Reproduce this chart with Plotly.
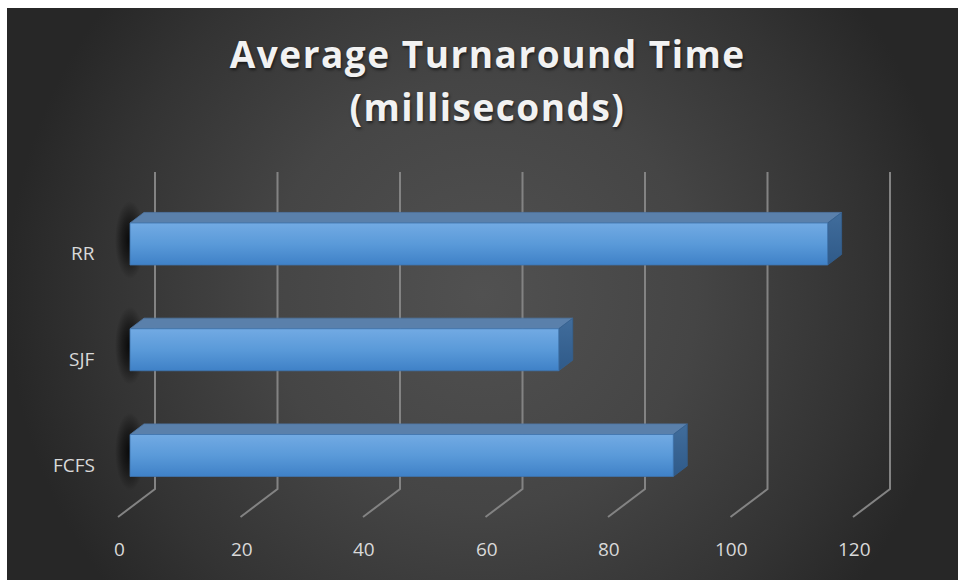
import plotly.graph_objects as go

# ---- data -------------------------------------------------------------
categories = ["FCFS", "SJF", "RR"]
turnaround_ms = [88.7, 70.0, 113.9]
tick_values = [0, 20, 40, 60, 80, 100, 120]
tick_labels = ["0", "20", "40", "60", "80", "100", "120"]
title_lines = ["Average Turnaround Time", "(milliseconds)"]

# ---- canvas / projection geometry --------------------------------------
W, H = 958, 580
LEFT, TOP = 7, 8            # thin white frame round the dark chart area
PX_PER_MS = 6.125           # horizontal scale of the value axis
ZERO_PX = 130               # value 0 on the front plane of the bars
ROW0_PX = 455.5             # centre of the first category row
ROW_STEP_PX = 105.75        # distance between category rows
TITLE_SIZE = 37


def xu(px):
    return px / PX_PER_MS


def yu(px):
    return px / ROW_STEP_PX


def y_at(py):
    return (ROW0_PX - py) / ROW_STEP_PX


x_range = [(LEFT - ZERO_PX) / PX_PER_MS, (W - ZERO_PX) / PX_PER_MS]
y_range = [y_at(H), y_at(TOP)]

# oblique depth: floor front edge (depth 0) -> back wall (depth 1)
DEPTH_DX, DEPTH_DY = xu(37), yu(28)
BAR_D0, BAR_D1 = 12 / 37, 26 / 37
BAR_HALF = yu(21)
FLOOR_FRONT_Y = y_at(517)
WALL_TOP_Y = y_at(172)


def shift(d):
    return ((d - BAR_D0) * DEPTH_DX, (d - BAR_D0) * DEPTH_DY)


fig = go.Figure()

# ---- radial background ------------------------------------------------
cx = (x_range[0] + x_range[1]) / 2
cy = y_at((TOP + H) / 2)
rx = (x_range[1] - x_range[0]) / 2
ry = yu(475)
fig.add_trace(go.Scatter(
    x=[cx - rx, cx + rx, cx + rx, cx - rx, cx - rx],
    y=[cy - ry, cy - ry, cy + ry, cy + ry, cy - ry],
    mode="lines", line=dict(width=0), fill="toself",
    fillgradient=dict(type="radial", colorscale=[
        [0, "#515151"], [0.45, "#454545"], [0.8, "#333333"], [1, "#272727"]]),
    hoverinfo="skip", showlegend=False))

# ---- gridlines: back wall + floor -------------------------------------
gx, gy = [], []
bx_off = shift(1)[0]
fx_off = shift(0)[0]
for v in tick_values:
    gx += [v + bx_off, v + bx_off, v + fx_off, None]
    gy += [WALL_TOP_Y, FLOOR_FRONT_Y + DEPTH_DY, FLOOR_FRONT_Y, None]
fig.add_trace(go.Scatter(x=gx, y=gy, mode="lines",
                         line=dict(color="#838383", width=2),
                         hoverinfo="skip", showlegend=False))

# ---- 3D bars ------------------------------------------------------------
ddx, ddy = shift(BAR_D1)
for i, (cat, val) in enumerate(zip(categories, turnaround_ms)):
    yb, yt = i - BAR_HALF, i + BAR_HALF

    # soft shadow behind the left end of the bar
    fig.add_trace(go.Scatter(
        x=[-xu(15), xu(15), xu(15), -xu(15), -xu(15)],
        y=[yb - yu(14), yb - yu(14), yt + yu(22), yt + yu(22), yb - yu(14)],
        mode="lines", line=dict(width=0), fill="toself",
        fillgradient=dict(type="radial", colorscale=[
            [0, "rgba(0,0,0,0.85)"], [0.55, "rgba(0,0,0,0.45)"],
            [1, "rgba(0,0,0,0)"]]),
        hoverinfo="skip", showlegend=False))

    # top face
    fig.add_trace(go.Scatter(
        x=[0, val, val + ddx, ddx, 0],
        y=[yt, yt, yt + ddy, yt + ddy, yt],
        mode="lines", line=dict(color="#4f76a3", width=0.8), fill="toself",
        fillcolor="#5a80ab", hoverinfo="skip", showlegend=False))

    # right end face
    fig.add_trace(go.Scatter(
        x=[val, val + ddx, val + ddx, val, val],
        y=[yb, yb + ddy, yt + ddy, yt, yb],
        mode="lines", line=dict(color="#34608f", width=0.8), fill="toself",
        fillgradient=dict(type="vertical", colorscale=[
            [0, "#2f5a89"], [1, "#416d9c"]]),
        hoverinfo="skip", showlegend=False))

    # front face
    fig.add_trace(go.Scatter(
        x=[0, val, val, 0, 0],
        y=[yb, yb, yt, yt, yb],
        mode="lines", line=dict(color="#3f74ad", width=0.8), fill="toself",
        fillgradient=dict(type="vertical", colorscale=[
            [0, "#3f81c7"], [0.5, "#5a9ad9"], [1, "#72aae3"]]),
        name=cat, hovertemplate=cat + ": %{x}<extra></extra>",
        showlegend=False))

# ---- labels -------------------------------------------------------------
annotations = []
label_font = dict(family="Open Sans", size=19, color="#d9d9d9")
for v, t in zip(tick_values, tick_labels):
    annotations.append(dict(x=v + fx_off + xu(1), y=y_at(549), xref="x", yref="y",
                            text=t, showarrow=False, xanchor="center",
                            yanchor="middle", font=label_font))
for i, cat in enumerate(categories):
    annotations.append(dict(x=fx_off - xu(21), y=i + shift(0)[1], xref="x", yref="y",
                            text=cat, showarrow=False, xanchor="right",
                            yanchor="middle", font=label_font))

title_font = dict(family="Open Sans", size=TITLE_SIZE, color="#f2f2f2", weight="bold",
                  shadow="1px 2px 3px rgba(0,0,0,0.55)")
for line, py in zip(title_lines, [53, 107]):
    annotations.append(dict(x=487.5 / W, y=1 - py / H, xref="paper", yref="paper",
                            text=line, showarrow=False, xanchor="center",
                            yanchor="middle", font=title_font))

fig.update_layout(
    width=W, height=H,
    margin=dict(l=0, r=0, t=0, b=0),
    paper_bgcolor="#ffffff",
    plot_bgcolor="#2a2a2a",
    xaxis=dict(range=x_range, domain=[LEFT / W, 1], visible=False, fixedrange=True),
    yaxis=dict(range=y_range, domain=[0, 1 - TOP / H], visible=False, fixedrange=True),
    annotations=annotations,
    showlegend=False,
)

# widen the tracking of the two title lines
letter_spacing_js = """
document.querySelectorAll('text.annotation-text').forEach(function (t) {
  if (parseFloat(t.style.fontSize) === %d) { t.style.letterSpacing = '1.5px'; }
});
""" % TITLE_SIZE

fig.write_html("out.html", config={"displayModeBar": False},
               post_script=letter_spacing_js)
